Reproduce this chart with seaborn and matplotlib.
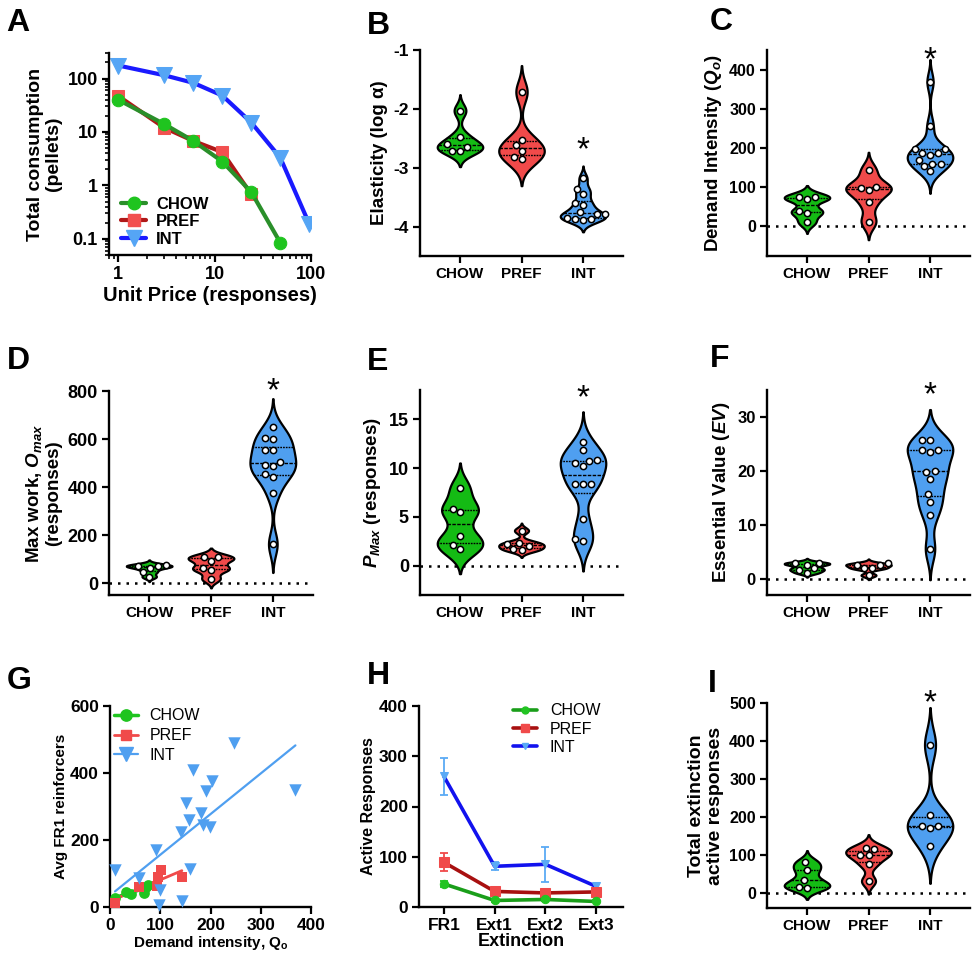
import numpy as np
import pandas as pd
import matplotlib
matplotlib.use("Agg")
import matplotlib.pyplot as plt
import seaborn as sns
from matplotlib.lines import Line2D
from matplotlib.ticker import LogLocator, NullFormatter

sns.set_theme(style="ticks")
plt.rcParams['font.family'] = ['Liberation Sans', 'DejaVu Sans']
plt.rcParams['font.weight'] = 'bold'
plt.rcParams['axes.labelweight'] = 'bold'
plt.rcParams['axes.unicode_minus'] = False
plt.rcParams['mathtext.fontset'] = 'custom'
plt.rcParams['mathtext.rm'] = 'Liberation Sans:bold'
plt.rcParams['mathtext.it'] = 'Liberation Sans:bold:italic'
plt.rcParams['mathtext.bf'] = 'Liberation Sans:bold'
for k in ('text.color', 'axes.labelcolor', 'xtick.color', 'ytick.color', 'axes.edgecolor'):
    plt.rcParams[k] = 'black'

GROUPS = ["CHOW", "PREF", "INT"]
PALETTE = {"CHOW": "#14bb14", "PREF": "#f04a4a", "INT": "#4f9ff0"}

# ---------------- data ----------------
# A: demand curves
unit_price = [1, 3, 6, 12, 24, 48, 96]
a_chow = [40, 14, 6.8, 2.8, 0.75, 0.085]
a_pref = [47, 12, 6.8, 4.2, 0.68]
a_int = [175, 115, 83, 48, 15, 3.3, 0.19]

# B: elasticity
b_chow = [-2.03, -2.47, -2.60, -2.64, -2.71, -2.71]
b_pref = [-1.71, -2.53, -2.62, -2.72, -2.81, -2.86]
b_int = [-3.18, -3.37, -3.45, -3.60, -3.63, -3.76, -3.78, -3.78, -3.86, -3.87, -3.87, -3.88]

# C: demand intensity Qo
c_chow = [75, 74, 68, 39, 33, 9]
c_pref = [142, 100, 97, 92, 60, 11]
c_int = [369, 255, 197, 197, 187, 187, 182, 168, 159, 159, 152, 140]

# D: Omax
d_chow = [76, 72, 70, 62, 46, 26]
d_pref = [108, 108, 90, 62, 55, 17]
d_int = [650, 606, 599, 556, 556, 505, 491, 489, 454, 443, 374, 162]

# E: Pmax
e_chow = [7.96, 5.83, 5.49, 3.09, 2.09, 1.75]
e_pref = [3.60, 2.37, 2.23, 2.02, 1.68, 1.61]
e_int = [12.66, 11.84, 10.78, 10.71, 10.5, 10.19, 8.37, 8.37, 8.37, 4.77, 2.75, 2.57]

# F: essential value
f_chow = [3.0, 2.85, 2.54, 1.92, 1.6, 1.1]
f_pref = [2.85, 2.6, 2.54, 2.0, 1.92, 0.68]
f_int = [25.7, 25.7, 23.8, 23.8, 23.5, 20.0, 19.8, 18.5, 15.7, 14.3, 11.8, 5.5]

# G: correlation Qo vs FR1 reinforcers
g_chow_x = [10, 32, 42, 68, 72, 76]
g_chow_y = [27, 45, 40, 42, 60, 67]
g_pref_x = [10, 57, 93, 96, 101, 143]
g_pref_y = [12, 60, 62, 90, 109, 89]
g_int_x = [10, 58, 91, 100, 98, 142, 152, 157, 160, 143, 166, 181, 186, 191, 203, 199, 246, 369]
g_int_y = [111, 86, 171, 50, 7, 224, 310, 261, 113, 17, 409, 280, 245, 345, 375, 240, 489, 350]

# H: extinction
h_sessions = ["FR1", "Ext1", "Ext2", "Ext3"]
h_chow = [46, 13, 15, 11]
h_chow_err = [6, 3, 3, 2]
h_pref = [89, 31, 28, 30]
h_pref_err = [18, 5, 5, 4]
h_int = [260, 81, 85, 41]
h_int_err = [37, 8, 35, 4]

# I: total extinction responses
i_chow = [80, 60, 33, 16, 14]
i_pref = [119, 115, 99, 99, 75, 31]
i_int = [390, 206, 177, 177, 171, 123]

# ---------------- figure ----------------
W, H = 975, 958
fig = plt.figure(figsize=(W / 100, H / 100), dpi=100)


def rect(l, r, t, b):
    return [l / W, 1 - b / H, (r - l) / W, (b - t) / H]


LABEL_FS = 13.5


def style_axes(ax, ysize=12, xsize=11):
    sns.despine(ax=ax)
    for s in ("left", "bottom"):
        ax.spines[s].set_linewidth(1.7)
        ax.spines[s].set_color("black")
    ax.tick_params(axis="both", which="major", length=5, width=1.6, color="black",
                   direction="out", pad=3)
    ax.tick_params(axis="both", which="minor", length=3, width=1.2, color="black")
    ax.tick_params(axis="y", labelsize=ysize)
    ax.tick_params(axis="x", labelsize=xsize)
    for lab in ax.get_xticklabels() + ax.get_yticklabels():
        lab.set_fontweight("bold")
        lab.set_color("black")


def violin_panel(ax, vals, ylim, yticks, ylabel, star_y, zero=True, ysize=12):
    df = pd.DataFrame({
        "group": np.repeat(GROUPS, [len(v) for v in vals]),
        "value": np.concatenate([np.asarray(v, float) for v in vals]),
    })
    if zero:
        ax.axhline(0, color="black", lw=1.8, ls=(0, (1, 2.4)), zorder=0)
    sns.violinplot(data=df, x="group", y="value", hue="group", order=GROUPS,
                   hue_order=GROUPS, palette=PALETTE, legend=False, inner="quart",
                   cut=2.5, bw_adjust=0.6, density_norm="width", width=0.74,
                   linecolor="black", linewidth=1.6, saturation=1,
                   inner_kws=dict(linewidth=1.0, color="black"), ax=ax)
    sns.swarmplot(data=df, x="group", y="value", order=GROUPS, color="white",
                  edgecolor="black", linewidth=1.1, size=4.5, ax=ax, zorder=5)
    ax.set_xlim(-0.65, 2.65)
    ax.set_ylim(*ylim)
    ax.set_yticks(yticks)
    ax.set_xlabel("")
    ax.set_ylabel(ylabel, fontsize=LABEL_FS, fontweight="bold")
    ax.text(2, star_y, "*", ha="center", va="center", fontsize=24,
            fontweight="normal", color="black")
    style_axes(ax, ysize=ysize, xsize=11)


# ---- A ----
axA = fig.add_axes(rect(109, 311, 53, 255))
axA.set_xscale("log")
axA.set_yscale("log")
sns.lineplot(x=unit_price[:len(a_int)], y=a_int, ax=axA, color="#1a1aff", lw=3,
             marker="v", markersize=11, markerfacecolor="#55a5f5",
             markeredgecolor="#55a5f5")
sns.lineplot(x=unit_price[:len(a_pref)], y=a_pref, ax=axA, color="#b01818", lw=3,
             marker="s", markersize=8, markerfacecolor="#f25050",
             markeredgecolor="#f25050")
sns.lineplot(x=unit_price[:len(a_chow)], y=a_chow, ax=axA, color="#2a8f2a", lw=3,
             marker="o", markersize=9, markerfacecolor="#1fc41f",
             markeredgecolor="#1fc41f")
axA.set_xlim(0.8, 100)
axA.set_ylim(0.05, 300)
axA.set_xticks([1, 10, 100])
axA.set_xticklabels(["1", "10", "100"])
axA.set_yticks([0.1, 1, 10, 100])
axA.set_yticklabels(["0.1", "1", "10", "100"])
axA.xaxis.set_minor_locator(LogLocator(base=10, subs=np.arange(2, 10)))
axA.yaxis.set_minor_locator(LogLocator(base=10, subs=np.arange(2, 10)))
axA.xaxis.set_minor_formatter(NullFormatter())
axA.yaxis.set_minor_formatter(NullFormatter())
axA.set_xlabel("Unit Price (responses)", fontsize=14.5, labelpad=2)
axA.set_ylabel("Total consumption\n(pellets)", fontsize=14, linespacing=1.1)
hA = [Line2D([], [], color="#2a8f2a", lw=3, marker="o", markersize=9,
             markerfacecolor="#1fc41f", markeredgecolor="#1fc41f"),
      Line2D([], [], color="#b01818", lw=3, marker="s", markersize=8,
             markerfacecolor="#f25050", markeredgecolor="#f25050"),
      Line2D([], [], color="#1a1aff", lw=3, marker="v", markersize=11,
             markerfacecolor="#55a5f5", markeredgecolor="#55a5f5")]
axA.legend(hA, GROUPS, loc="lower left", frameon=False, handlelength=1.5,
           prop={"weight": "bold", "size": 12}, borderaxespad=0.1,
           labelspacing=0.15, handletextpad=0.6, bbox_to_anchor=(0.02, 0.0))
style_axes(axA, ysize=13, xsize=13)

# ---- B ----
axB = fig.add_axes(rect(420, 623, 50, 256))
violin_panel(axB, [b_chow, b_pref, b_int], (-4.5, -1), [-4, -3, -2, -1],
             "Elasticity (log α)", -2.72, zero=False, ysize=12.5)

# ---- C ----
axC = fig.add_axes(rect(767, 970, 50, 256))
violin_panel(axC, [c_chow, c_pref, c_int], (-77, 450), [0, 100, 200, 300, 400],
             r"Demand Intensity ($Q_o$)", 422, ysize=11.5)

# ---- D ----
axD = fig.add_axes(rect(109, 313, 391, 595))
violin_panel(axD, [d_chow, d_pref, d_int], (-50, 800), [0, 200, 400, 600, 800],
             "Max work, $O_{max}$\n(responses)", 796, ysize=13)
axD.yaxis.label.set_linespacing(1.1)

# ---- E ----
axE = fig.add_axes(rect(420, 623, 390, 595))
violin_panel(axE, [e_chow, e_pref, e_int], (-3, 18), [0, 5, 10, 15],
             r"$P_{Max}$ (responses)", 17.1, ysize=13)

# ---- F ----
axF = fig.add_axes(rect(767, 970, 390, 595))
violin_panel(axF, [f_chow, f_pref, f_int], (-3, 35), [0, 10, 20, 30],
             r"Essential Value ($EV$)", 34, ysize=12)

# ---- G ----
axG = fig.add_axes(rect(110, 311, 706, 907))
g_sets = [("CHOW", g_chow_x, g_chow_y, "#1fc41f", "o", 60, 2.5),
          ("PREF", g_pref_x, g_pref_y, "#f04a4a", "s", 42, 2.0),
          ("INT", g_int_x, g_int_y, "#4f9ff0", "v", 80, 1.6)]
for name, gx, gy, col, mk, s, lw in g_sets:
    sns.regplot(x=gx, y=gy, ax=axG, scatter=False, ci=None, color=col,
                line_kws=dict(lw=lw))
for name, gx, gy, col, mk, s, lw in g_sets:
    sns.scatterplot(x=gx, y=gy, ax=axG, color=col, marker=mk, s=s,
                    edgecolor=col, linewidth=0, clip_on=False, zorder=4)
axG.set_xlim(0, 400)
axG.set_ylim(0, 600)
axG.set_xticks([0, 100, 200, 300, 400])
axG.set_yticks([0, 200, 400, 600])
axG.set_xlabel(r"Demand intensity, Q$_\mathrm{o}$", fontsize=11, labelpad=1)
axG.set_ylabel("Avg FR1 reinforcers", fontsize=11, labelpad=1)
hG = [Line2D([], [], color=c, lw=lw, marker=m, markersize=np.sqrt(s) * 1.05,
             markerfacecolor=c, markeredgecolor=c)
      for _, _, _, c, m, s, lw in g_sets]
axG.legend(hG, GROUPS, loc="upper left", frameon=False, handlelength=1.5,
           prop={"weight": "normal", "size": 11.5}, borderaxespad=0.0,
           labelspacing=0.3, handletextpad=0.7, bbox_to_anchor=(-0.01, 1.02))
style_axes(axG, ysize=12.5, xsize=12.5)

# ---- H ----
axH = fig.add_axes(rect(419, 623, 706, 907))
h_pos = np.arange(len(h_sessions))
h_sets = [("CHOW", h_chow, h_chow_err, "#1a9e1a", "#22c422", "o", 6),
          ("PREF", h_pref, h_pref_err, "#a81010", "#f04a4a", "s", 7),
          ("INT", h_int, h_int_err, "#1212ee", "#5aaaf5", "v", 6)]
for name, hv, he, lc, mc, mk, ms in h_sets[::-1]:
    axH.errorbar(h_pos, hv, yerr=he, fmt="none", ecolor=mc, elinewidth=1.3,
                 capsize=3, capthick=1.3, zorder=2)
    sns.lineplot(x=h_pos, y=hv, ax=axH, color=lc, lw=2.6, marker=mk,
                 markersize=ms, markerfacecolor=mc, markeredgecolor=mc, zorder=3)
axH.set_xlim(-0.49, 3.53)
axH.set_ylim(0, 400)
axH.set_xticks(h_pos)
axH.set_xticklabels(h_sessions)
axH.set_yticks([0, 100, 200, 300, 400])
axH.set_xlabel("Extinction", fontsize=13, labelpad=0)
axH.set_ylabel("Active Responses", fontsize=11.5, labelpad=2)
hH = [Line2D([], [], color=lc, lw=2.6, marker=mk, markersize=ms - 1,
             markerfacecolor=mc, markeredgecolor=mc)
      for _, _, _, lc, mc, mk, ms in h_sets]
axH.legend(hH, GROUPS, loc="upper right", frameon=False, handlelength=1.5,
           prop={"weight": "normal", "size": 11.5}, borderaxespad=0.0,
           labelspacing=0.2, handletextpad=0.8, bbox_to_anchor=(0.92, 1.045))
style_axes(axH, ysize=12.5, xsize=12.5)

# ---- I ----
axI = fig.add_axes(rect(767, 970, 703, 908))
violin_panel(axI, [i_chow, i_pref, i_int], (-40, 500), [0, 100, 200, 300, 400, 500],
             "Total extinction\nactive responses", 498, ysize=11.5)
axI.yaxis.label.set_linespacing(1.1)
axI.yaxis.label.set_fontsize(14)

# ---- panel letters ----
for letter, x, y in [("A", 6, 8), ("B", 367, 11), ("C", 710, 7),
                     ("D", 7, 346), ("E", 367, 347), ("F", 710, 344),
                     ("G", 7, 666), ("H", 367, 661), ("I", 708, 669)]:
    fig.text(x / W, 1 - y / H, letter, fontsize=23, fontweight="bold",
             ha="left", va="top", color="black")

fig.savefig("out.png", dpi=100)
